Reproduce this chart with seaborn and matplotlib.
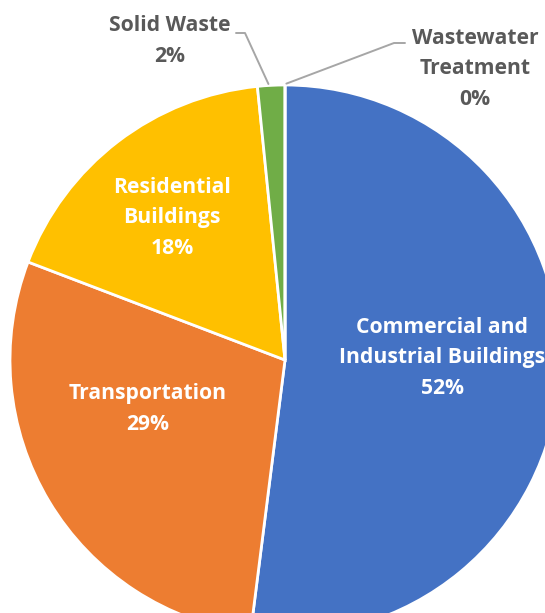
import numpy as np
import matplotlib
matplotlib.use("Agg")
import matplotlib.pyplot as plt
import seaborn as sns

# Emissions share by sector
sectors = ["Commercial and\nIndustrial Buildings", "Transportation",
           "Residential\nBuildings", "Solid Waste", "Wastewater\nTreatment"]
shares = [52.0, 28.8, 17.6, 1.6, 0.0]
colors = ["#4472C4", "#ED7D31", "#FFC000", "#70AD47", "#A5A5A5"]

sns.set_theme(style="white")
plt.rcParams["font.family"] = ["Open Sans", "DejaVu Sans"]

W, H = 545, 613
fig = plt.figure(figsize=(W / 100, H / 100), dpi=100)
ax = fig.add_axes([0, 0, 1, 1])

# pixel helpers: pie centre at (285, 360), radius 275 px
CX, CY, R = 285, 360, 275
def px(x, y):
    return (x - CX) / R, (CY - y) / R

wedges, _ = ax.pie(shares, colors=sns.color_palette(colors), startangle=90,
                   counterclock=False, radius=1.0,
                   wedgeprops=dict(edgecolor="white", linewidth=2.0))

ax.set_xlim(px(0, 0)[0], px(W, 0)[0])
ax.set_ylim(px(0, H)[1], px(0, 0)[1])
ax.set_aspect("equal")
ax.axis("off")

labels = [f"{s}\n{v:.0f}%" for s, v in zip(sectors, shares)]
fs = 15.2
ls = 1.62
inside = {0: (442, 358), 1: (148, 409), 2: (172, 218)}
for i, (x, y) in inside.items():
    ax.text(*px(x, y), labels[i], ha="center", va="center", color="white",
            fontsize=fs, fontweight="bold", linespacing=ls)

outside = {3: (170, 41), 4: (475, 69)}
for i, (x, y) in outside.items():
    ax.text(*px(x, y), labels[i], ha="center", va="center", color="#595959",
            fontsize=fs, fontweight="bold", linespacing=ls)

# leader lines from small wedges to their labels
def edge_point(w):
    ang = np.deg2rad((w.theta1 + w.theta2) / 2)
    return np.cos(ang) * 1.0, np.sin(ang) * 1.0

ex, ey = edge_point(wedges[3])
k1, k2 = px(236, 33), px(245, 33)
ax.plot([k1[0], k2[0], ex - 0.01], [k1[1], k2[1], ey + 0.005], color="#A6A6A6", lw=1.4)
ex, ey = edge_point(wedges[4])
k1, k2 = px(405, 43), px(394, 43)
ax.plot([k1[0], k2[0], ex + 0.005], [k1[1], k2[1], ey + 0.005], color="#A6A6A6", lw=1.4)

fig.savefig("out.png", dpi=100)
